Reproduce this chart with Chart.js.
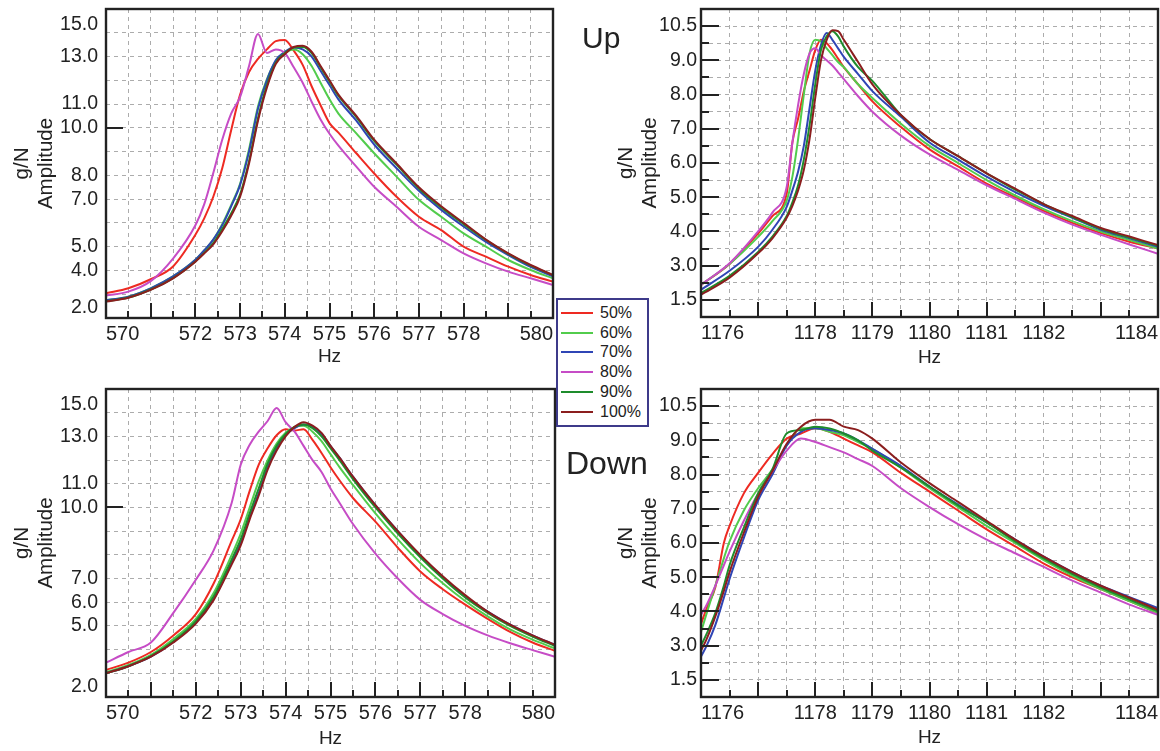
<!DOCTYPE html>
<html>
<head>
<meta charset="utf-8">
<title>Amplitude g/N vs Hz</title>
<script src="https://cdn.jsdelivr.net/npm/chart.js@4.4.1/dist/chart.umd.min.js"></script>
<style>
  html, body { margin: 0; padding: 0; background: #fff; }
  #page { position: relative; width: 1160px; height: 751px; overflow: hidden;
          font-family: 'Liberation Sans', Arial, sans-serif; color: #222; }
  #page canvas { position: absolute; }
  .tag { position: absolute; }
  #legend { position: absolute; left: 556px; top: 298px; width: 89px; height: 122px;
            padding-top: 3px; border: 2px solid #3d3a8a; background: #fff; font-size: 16px; }
  #legend .row { display: flex; align-items: center; height: 19.8px; }
  #legend .sw { width: 32px; height: 2px; margin: 0 7px 0 3px; }
</style>
</head>
<body>
<div id="page">
  <canvas id="upLow" width="580" height="380" style="left:0;top:0"></canvas>
  <canvas id="upHigh" width="580" height="380" style="left:580px;top:0"></canvas>
  <canvas id="downLow" width="580" height="371" style="left:0;top:380px"></canvas>
  <canvas id="downHigh" width="580" height="371" style="left:580px;top:380px"></canvas>
  <div class="tag" style="left:582px;top:23px;font-size:30px;line-height:30px">Up</div>
  <div class="tag" style="left:566px;top:447px;font-size:32px;line-height:32px">Down</div>
  <div id="legend"></div>
</div>
<script>
// ─── Series ───────────────────────────────────────────────────────────────────
const SERIES_LABELS = ['50%', '60%', '70%', '80%', '90%', '100%'];
const SERIES_COLORS = ['#ee2a22', '#52cc4c', '#2f45b5', '#c64cc6', '#1e8c2c', '#8b1e1e'];

// ─── Up, 570-580 Hz ───────────────────────────────────────────────────────────
const upLowHz = [570, 570.5, 571, 571.5, 572, 572.2, 572.4, 572.6, 572.8, 573, 573.2, 573.4, 573.6, 573.8,
  574, 574.2, 574.4, 574.6, 574.8, 575, 575.2, 575.6, 576, 576.5, 577, 577.5, 578, 578.5, 579, 579.5, 580];
const upLow50 = [3.04, 3.25, 3.63, 4.17, 5.5, 6.2, 7.1, 8.3, 9.9, 11.4, 12.35, 12.9, 13.3, 13.65,
  13.7, 13.25, 12.65, 11.75, 10.95, 10.2, 9.8, 8.93, 8.08, 7.1, 6.26, 5.7, 5.0, 4.58, 4.16, 3.81, 3.53];
const upLow60 = [2.75, 2.9, 3.25, 3.75, 4.45, 4.85, 5.3, 5.95, 6.75, 7.65, 9.1, 10.9, 12.05, 12.8,
  13.15, 13.3, 13.1, 12.6, 11.9, 11.2, 10.6, 9.77, 8.93, 7.95, 6.97, 6.26, 5.56, 5.0, 4.44, 4.02, 3.67];
const upLow70 = [2.75, 2.9, 3.25, 3.75, 4.45, 4.85, 5.3, 5.9, 6.7, 7.6, 9.0, 10.8, 12.0, 12.85,
  13.2, 13.38, 13.3, 13.0, 12.4, 11.8, 11.2, 10.3, 9.3, 8.3, 7.35, 6.55, 5.85, 5.2, 4.65, 4.15, 3.75];
const upLow80 = [2.95, 3.11, 3.55, 4.5, 5.9, 6.8, 8.1, 9.5, 10.6, 11.3, 12.6, 13.95, 13.15, 13.3,
  13.15, 12.55, 11.9, 11.1, 10.35, 9.75, 9.25, 8.37, 7.52, 6.68, 5.84, 5.28, 4.72, 4.3, 3.95, 3.67, 3.39];
const upLow90 = [2.7, 2.86, 3.2, 3.68, 4.38, 4.75, 5.15, 5.75, 6.4, 7.2, 8.6, 10.4, 11.8, 12.75,
  13.15, 13.38, 13.4, 13.15, 12.55, 11.95, 11.35, 10.45, 9.45, 8.45, 7.45, 6.65, 5.95, 5.28, 4.7, 4.2, 3.8];
const upLow100 = [2.69, 2.85, 3.18, 3.67, 4.37, 4.72, 5.1, 5.65, 6.3, 7.1, 8.5, 10.3, 11.7, 12.7,
  13.1, 13.4, 13.45, 13.2, 12.6, 12.0, 11.4, 10.5, 9.5, 8.5, 7.5, 6.7, 6.0, 5.3, 4.72, 4.23, 3.81];

// ─── Up, 1176-1184 Hz ─────────────────────────────────────────────────────────
const upHighHz = [1176, 1176.5, 1177, 1177.25, 1177.5, 1177.6, 1177.7, 1177.8, 1177.9, 1178, 1178.1, 1178.2,
  1178.3, 1178.4, 1178.5, 1178.75, 1179, 1179.5, 1180, 1180.5, 1181, 1181.5, 1182, 1182.5, 1183, 1183.5, 1184];
const upHigh50 = [2.44, 3.05, 3.94, 4.45, 5.1, 6.6, 7.3, 8.1, 8.7, 9.3, 9.6, 9.5,
  9.3, 9.05, 8.8, 8.3, 7.8, 7.05, 6.4, 5.9, 5.4, 5.0, 4.6, 4.25, 3.95, 3.7, 3.5];
const upHigh60 = [2.44, 3.05, 3.84, 4.3, 4.9, 5.6, 6.7, 8.0, 9.2, 9.6, 9.55, 9.35,
  9.15, 8.95, 8.8, 8.3, 7.9, 7.15, 6.5, 6.0, 5.5, 5.05, 4.65, 4.3, 4.0, 3.75, 3.5];
const upHigh70 = [2.3, 2.85, 3.55, 4.05, 4.72, 5.2, 5.75, 6.5, 7.6, 8.7, 9.45, 9.8,
  9.6, 9.35, 9.1, 8.6, 8.1, 7.35, 6.6, 6.1, 5.6, 5.15, 4.75, 4.4, 4.05, 3.8, 3.55];
const upHigh80 = [2.44, 3.07, 4.0, 4.55, 5.3, 6.6, 7.7, 8.6, 9.2, 9.35, 9.15, 9.0,
  8.85, 8.65, 8.45, 7.95, 7.5, 6.8, 6.25, 5.8, 5.35, 4.95, 4.55, 4.2, 3.9, 3.62, 3.35];
const upHigh90 = [2.2, 2.7, 3.4, 3.85, 4.45, 4.85, 5.35, 6.1, 7.1, 8.3, 9.3, 9.7,
  9.85, 9.7, 9.4, 8.8, 8.4, 7.4, 6.7, 6.2, 5.7, 5.22, 4.8, 4.42, 4.08, 3.82, 3.58];
const upHigh100 = [2.15, 2.65, 3.36, 3.8, 4.4, 4.75, 5.2, 5.8, 6.7, 7.9, 9.0, 9.6,
  9.88, 9.85, 9.6, 8.95, 8.3, 7.4, 6.7, 6.2, 5.7, 5.25, 4.8, 4.45, 4.1, 3.85, 3.6];

// ─── Down, 570-580 Hz ─────────────────────────────────────────────────────────
const downLowHz = [570, 570.5, 571, 571.5, 572, 572.4, 572.8, 573, 573.2, 573.4, 573.6, 573.8, 574, 574.2,
  574.4, 574.6, 574.8, 575, 575.2, 575.5, 576, 576.5, 577, 577.5, 578, 578.5, 579, 579.5, 580];
const downLow50 = [3.14, 3.45, 3.9, 4.6, 5.5, 6.8, 8.6, 9.5, 10.7, 11.8, 12.5, 13.05, 13.3, 13.25,
  13.3, 12.85, 12.3, 11.7, 11.15, 10.4, 9.4, 8.3, 7.3, 6.55, 5.9, 5.3, 4.75, 4.3, 3.95];
const downLow60 = [3.05, 3.35, 3.78, 4.45, 5.3, 6.4, 8.0, 8.9, 10.0, 11.1, 12.0, 12.7, 13.15, 13.4,
  13.45, 13.2, 12.8, 12.25, 11.7, 10.95, 9.75, 8.65, 7.65, 6.8, 6.05, 5.4, 4.85, 4.42, 4.05];
const downLow70 = [3.0, 3.3, 3.7, 4.32, 5.15, 6.15, 7.7, 8.5, 9.6, 10.6, 11.7, 12.5, 13.05, 13.35,
  13.5, 13.4, 13.1, 12.6, 12.1, 11.3, 10.1, 9.0, 7.95, 7.05, 6.25, 5.6, 5.05, 4.6, 4.2];
const downLow80 = [3.45, 3.9, 4.3, 5.55, 6.95, 8.2, 10.2, 11.8, 12.65, 13.2, 13.65, 14.2, 13.6, 13.2,
  12.6, 12.0, 11.5, 10.8, 10.2, 9.3, 8.05, 7.0, 6.1, 5.5, 5.0, 4.6, 4.27, 3.98, 3.7];
const downLow90 = [3.0, 3.3, 3.72, 4.35, 5.2, 6.25, 7.8, 8.65, 9.75, 10.8, 11.85, 12.6, 13.1, 13.4,
  13.5, 13.35, 13.0, 12.5, 12.0, 11.2, 10.0, 8.9, 7.9, 7.0, 6.2, 5.55, 5.0, 4.55, 4.15];
const downLow100 = [3.0, 3.3, 3.7, 4.3, 5.1, 6.1, 7.6, 8.4, 9.5, 10.5, 11.6, 12.4, 13.0, 13.4,
  13.6, 13.45, 13.15, 12.6, 12.1, 11.3, 10.1, 9.0, 8.0, 7.1, 6.3, 5.6, 5.05, 4.6, 4.2];

// ─── Down, 1176-1184 Hz ───────────────────────────────────────────────────────
const downHighHz = [1176, 1176.1, 1176.25, 1176.4, 1176.5, 1176.75, 1177, 1177.25, 1177.5, 1177.75, 1178, 1178.25,
  1178.5, 1178.75, 1179, 1179.5, 1180, 1180.5, 1181, 1181.5, 1182, 1182.5, 1183, 1183.5, 1184];
const downHigh50 = [3.63, 4.1, 4.7, 6.0, 6.5, 7.45, 8.05, 8.6, 9.05, 9.2, 9.35, 9.25,
  9.05, 8.85, 8.65, 8.05, 7.5, 6.95, 6.4, 5.9, 5.4, 5.0, 4.65, 4.3, 3.95];
const downHigh60 = [3.4, 3.95, 4.75, 5.55, 6.05, 6.95, 7.6, 8.15, 8.85, 9.35, 9.35, 9.25,
  9.15, 8.95, 8.75, 8.2, 7.6, 7.05, 6.5, 6.0, 5.5, 5.05, 4.65, 4.3, 3.95];
const downHigh70 = [2.68, 3.0, 3.6, 4.4, 4.95, 6.15, 7.25, 8.0, 8.85, 9.25, 9.35, 9.3,
  9.2, 9.0, 8.75, 8.25, 7.65, 7.12, 6.6, 6.1, 5.6, 5.15, 4.75, 4.42, 4.1];
const downHigh80 = [3.9, 4.2, 4.75, 5.35, 5.75, 6.65, 7.45, 8.1, 8.7, 9.05, 8.95, 8.8,
  8.65, 8.45, 8.25, 7.6, 7.05, 6.55, 6.1, 5.7, 5.3, 4.9, 4.55, 4.2, 3.9];
const downHigh90 = [3.0, 3.35, 3.95, 4.75, 5.35, 6.45, 7.45, 8.15, 9.2, 9.3, 9.4, 9.35,
  9.2, 9.0, 8.7, 8.2, 7.65, 7.1, 6.6, 6.05, 5.55, 5.1, 4.7, 4.35, 4.0];
const downHigh100 = [2.85, 3.2, 3.85, 4.6, 5.15, 6.3, 7.35, 8.1, 8.9, 9.4, 9.6, 9.6,
  9.4, 9.3, 9.05, 8.35, 7.75, 7.2, 6.65, 6.1, 5.6, 5.15, 4.75, 4.4, 4.05];

// ─── Tick labels ──────────────────────────────────────────────────────────────
const LOW_HZ_LABELS = [570, 572, 573, 574, 575, 576, 577, 578, 580];
const HIGH_HZ_LABELS = [1176, 1178, 1179, 1180, 1181, 1182, 1184];
const UP_LOW_AMP_AT = [2.42, 4, 5, 7, 8, 10, 11, 13, 14.33];
const UP_LOW_AMP_LABELS = ['2.0', '4.0', '5.0', '7.0', '8.0', '10.0', '11.0', '13.0', '15.0'];
const DOWN_LOW_AMP_AT = [2.42, 5, 6, 7, 10, 11, 13, 14.33];
const DOWN_LOW_AMP_LABELS = ['2.0', '5.0', '6.0', '7.0', '10.0', '11.0', '13.0', '15.0'];
const HIGH_AMP_AT = [2, 3, 4, 5, 6, 7, 8, 9, 10];
const HIGH_AMP_LABELS = ['1.5', '3.0', '4.0', '5.0', '6.0', '7.0', '8.0', '9.0', '10.5'];

const FONT = "'Liberation Sans', Arial, sans-serif";
const GRID_COLOR = '#acacac';
const FRAME_COLOR = '#222';

Chart.defaults.font.family = FONT;
Chart.defaults.color = '#222';

function stepValues(from, to, step) {
  const out = [];
  for (let v = from; v <= to + 1e-9; v += step) out.push(Math.round(v * 100) / 100);
  return out;
}

// frame round the plot plus the short solid tick marks inside it
function frameMarks(yMarkLength) {
  return {
    id: 'frameMarks',
    afterDatasetsDraw(chart) {
      const { ctx, chartArea: a, scales: { x, y } } = chart;
      ctx.save();
      ctx.strokeStyle = FRAME_COLOR;
      ctx.lineWidth = 2;
      ctx.beginPath();
      x.ticks.forEach(t => {
        if (t.value <= x.min || t.value >= x.max) return;
        const px = Math.round(x.getPixelForValue(t.value));
        const len = Number.isInteger(t.value) ? 15 : 7;
        ctx.moveTo(px, a.bottom);
        ctx.lineTo(px, a.bottom - len);
      });
      y.ticks.forEach(t => {
        const len = yMarkLength(t.value);
        if (!len) return;
        const py = Math.round(y.getPixelForValue(t.value));
        ctx.moveTo(a.left, py);
        ctx.lineTo(a.left + len, py);
      });
      ctx.stroke();
      ctx.lineWidth = 2.4;
      ctx.strokeRect(a.left, a.top, a.right - a.left, a.bottom - a.top);
      ctx.restore();
    }
  };
}

function makePanel(canvasId, p) {
  const canvas = document.getElementById(canvasId);
  const xTicks = stepValues(p.xMin, p.xMax, 0.5);
  const yGrid = stepValues(p.yGridFrom, p.yGridTo, p.yStep);
  const gridSet = new Set(yGrid);
  const yTicks = [...new Set([...yGrid, ...p.yLabelAt])].sort((a, b) => a - b);

  const datasets = p.series.map((vals, i) => ({
    label: SERIES_LABELS[i],
    data: p.hz.map((x, j) => ({ x, y: vals[j] })),
    borderColor: SERIES_COLORS[i],
    borderWidth: 2,
    pointRadius: 0,
    fill: false,
    cubicInterpolationMode: 'monotone',
    order: SERIES_LABELS.length - i
  }));

  const yMark = p.highAxis
    ? v => (gridSet.has(v) ? (Number.isInteger(v) ? 18 : 8) : 0)
    : v => (v === 10 ? 17 : 0);

  return new Chart(canvas, {
    type: 'line',
    data: { datasets },
    options: {
      responsive: false,
      devicePixelRatio: 1,
      animation: false,
      layout: { padding: p.padding },
      plugins: { legend: { display: false }, tooltip: { enabled: false } },
      scales: {
        x: {
          type: 'linear',
          min: p.xMin,
          max: p.xMax,
          afterBuildTicks: s => { s.ticks = xTicks.map(value => ({ value })); },
          afterFit: s => { s.height = p.xHeight; s.paddingLeft = 0; s.paddingRight = 0; },
          ticks: {
            autoSkip: false,
            maxRotation: 0,
            align: 'inner',
            padding: 4,
            font: { size: 20 },
            color: '#222',
            callback: v => (p.xLabels.includes(v) ? String(v) : '')
          },
          grid: {
            drawTicks: false,
            lineWidth: 1,
            color: c => (c.tick && c.tick.value > p.xMin && c.tick.value < p.xMax ? GRID_COLOR : 'rgba(0,0,0,0)')
          },
          border: { display: false, dash: [4, 4] },
          title: { display: true, text: 'Hz', font: { size: 19 }, color: '#222',
                   padding: { top: 0, bottom: p.hzPad } }
        },
        y: {
          type: 'linear',
          min: p.yMin,
          max: p.yMax,
          afterBuildTicks: s => { s.ticks = yTicks.map(value => ({ value })); },
          afterFit: s => { s.width = p.yWidth; s.paddingTop = 0; s.paddingBottom = 0; },
          ticks: {
            autoSkip: false,
            padding: p.yTickPad,
            font: { size: 19.5 },
            color: '#222',
            callback: v => {
              const k = p.yLabelAt.indexOf(v);
              return k >= 0 ? p.yLabelText[k] : '';
            }
          },
          grid: {
            drawTicks: false,
            lineWidth: 1,
            color: c => (c.tick && gridSet.has(c.tick.value) ? GRID_COLOR : 'rgba(0,0,0,0)')
          },
          border: { display: false, dash: [4, 4] },
          title: { display: true, text: ['g/N', 'Amplitude'], color: '#222',
                   font: { size: 20.5, lineHeight: 1.17 },
                   padding: { top: p.yTitlePad, bottom: 0 } }
        }
      }
    },
    plugins: [frameMarks(yMark)]
  });
}

// ─── Panels ───────────────────────────────────────────────────────────────────
const lowAxis = { xMin: 570, xMax: 580, xLabels: LOW_HZ_LABELS, yMin: 2, yMax: 15,
                  yGridFrom: 3, yGridTo: 14, yStep: 1, highAxis: false,
                  yWidth: 106, yTickPad: 8, yTitlePad: 10.5 };
const highAxis = { xMin: 1176, xMax: 1184, xLabels: HIGH_HZ_LABELS, yMin: 1.5, yMax: 10.5,
                   yGridFrom: 2, yGridTo: 10, yStep: 0.5, highAxis: true,
                   yLabelAt: HIGH_AMP_AT, yLabelText: HIGH_AMP_LABELS,
                   yWidth: 121, yTickPad: 4, yTitlePad: 34 };

makePanel('upLow', {
  ...lowAxis, hz: upLowHz,
  series: [upLow50, upLow60, upLow70, upLow80, upLow90, upLow100],
  yLabelAt: UP_LOW_AMP_AT, yLabelText: UP_LOW_AMP_LABELS,
  padding: { top: 9, right: 27, left: 0, bottom: 0 }, xHeight: 62, hzPad: 11.5
});
makePanel('upHigh', {
  ...highAxis, hz: upHighHz,
  series: [upHigh50, upHigh60, upHigh70, upHigh80, upHigh90, upHigh100],
  padding: { top: 9, right: 2, left: 0, bottom: 0 }, xHeight: 63, hzPad: 10.5
});
makePanel('downLow', {
  ...lowAxis, hz: downLowHz,
  series: [downLow50, downLow60, downLow70, downLow80, downLow90, downLow100],
  yLabelAt: DOWN_LOW_AMP_AT, yLabelText: DOWN_LOW_AMP_LABELS,
  padding: { top: 9, right: 25, left: 0, bottom: 0 }, xHeight: 54, hzPad: 0.5
});
makePanel('downHigh', {
  ...highAxis, hz: downHighHz,
  series: [downHigh50, downHigh60, downHigh70, downHigh80, downHigh90, downHigh100],
  padding: { top: 9, right: 2, left: 0, bottom: 0 }, xHeight: 54, hzPad: 1.5
});

// ─── Legend ───────────────────────────────────────────────────────────────────
const legend = document.getElementById('legend');
SERIES_LABELS.forEach((label, i) => {
  const row = document.createElement('div');
  row.className = 'row';
  row.innerHTML = `<span class="sw" style="background:${SERIES_COLORS[i]}"></span><span>${label}</span>`;
  legend.appendChild(row);
});
</script>
</body>
</html>
